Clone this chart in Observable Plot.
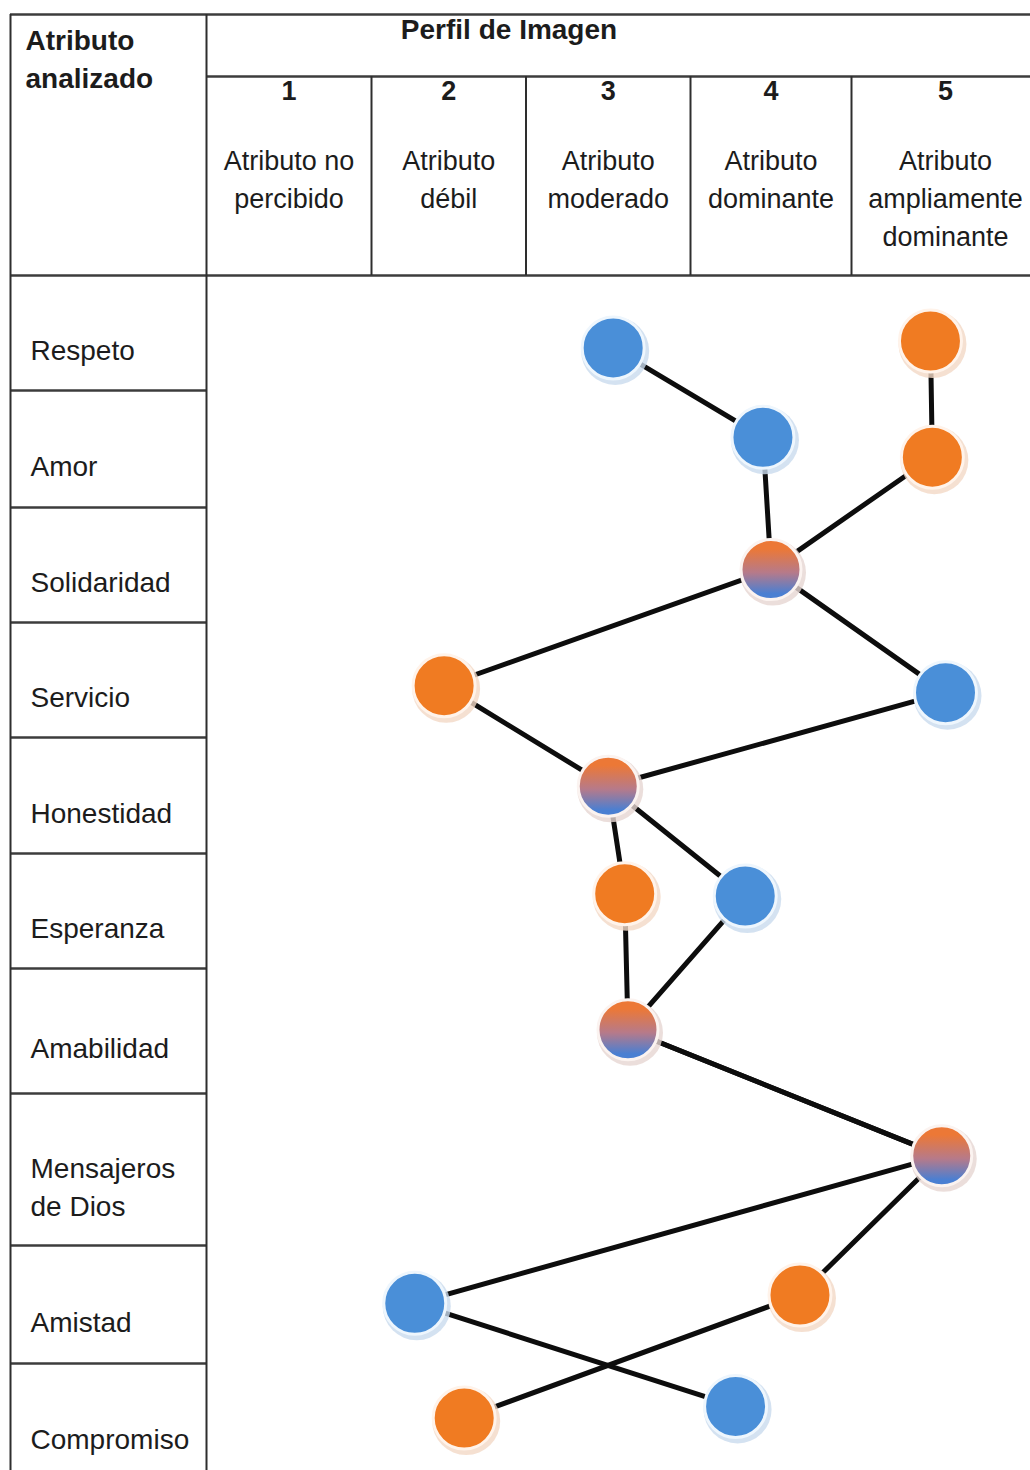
<!DOCTYPE html>
<html>
<head>
<meta charset="utf-8">
<script src="https://cdn.jsdelivr.net/npm/d3@7"></script>
<script src="https://cdn.jsdelivr.net/npm/@observablehq/plot@0.6"></script>
<style>
  html, body { margin: 0; padding: 0; background: #fff; }
  #chart svg { display: block; }
</style>
</head>
<body>
<div id="chart"></div>
<script>
// ---- data ----
const attributes = ["Respeto", "Amor", "Solidaridad", "Servicio", "Honestidad",
  "Esperanza", "Amabilidad", "Mensajeros\nde Dios", "Amistad", "Compromiso"];
const levels = [1, 2, 3, 4, 5];
const levelLabels = ["Atributo no\npercibido", "Atributo\ndébil", "Atributo\nmoderado",
  "Atributo\ndominante", "Atributo\nampliamente\ndominante"];
// score on the 1–5 image-profile scale
const blueScore   = [3.03, 3.95, 4.0, 5.0, 3.0, 3.84, 3.12, 4.98, 1.78, 3.78];
const orangeScore = [4.92, 4.93, 4.0, 1.97, 3.0, 3.10, 3.12, 4.98, 4.18, 2.10];
// vertical placement inside each attribute row (row index units)
const blueRow   = [0.63, 1.40, 2.54, 3.61, 4.42, 5.37, 6.49, 7.41, 8.49, 9.37];
const orangeRow = [0.57, 1.57, 2.54, 3.55, 4.42, 5.35, 6.49, 7.41, 8.42, 9.47];

const title = "Perfil de Imagen";
const corner = "Atributo\nanalizado";

// ---- derived tables ----
const blue = attributes.map((a, i) => ({attr: a, series: "blue", x: blueScore[i], y: blueRow[i]}));
const orange = attributes.map((a, i) => ({attr: a, series: "orange", x: orangeScore[i], y: orangeRow[i]}));
const same = attributes.map((a, i) => blueScore[i] === orangeScore[i] && blueRow[i] === orangeRow[i]);
const bluePts = blue.filter((d, i) => !same[i]);
const orangePts = orange.filter((d, i) => !same[i]);
const mixedPts = blue.filter((d, i) => same[i]);
const rowLabels = attributes.map((a, i) => ({label: a, y: i + 0.5}));
const n = attributes.length;

// table grid
const hLines = [
  {y: -2, x1: 0, x2: 5.5},
  {y: -1.5, x1: 0.5, x2: 5.5},
  {y: 0, x1: 0, x2: 5.5},
  ...d3.range(1, n).map(i => ({y: i, x1: 0, x2: 0.5}))
];
const vLines = [
  {x: 0, y1: -2, y2: n},
  {x: 0.5, y1: -2, y2: n},
  ...levels.slice(1).map(l => ({x: l - 0.5, y1: -1.5, y2: 0}))
];

const font = "'Liberation Sans', Arial, Helvetica, sans-serif";
const BLUE = "#4a8fd8", ORANGE = "#f07b22";

const svg = Plot.plot({
  width: 1030,
  height: 1470,
  margin: 0,
  style: {fontFamily: font, background: "#fff"},
  x: {type: "linear", axis: null,
      domain: [0, 0.5, 1.5, 2.5, 3.5, 4.5, 5.5],
      range: [10, 206, 371, 525.5, 690, 851, 1039]},
  y: {type: "linear", axis: null,
      domain: [-2, -1.5, ...d3.range(0, n + 1)],
      range: [14, 76, 275, 390, 507, 622, 737, 853, 968, 1093, 1245, 1363, 1479]},
  marks: [
    // grid
    Plot.ruleY(hLines, {y: "y", x1: "x1", x2: "x2", stroke: "#3c3c3c", strokeWidth: 2.6}),
    Plot.ruleX(vLines, {x: "x", y1: "y1", y2: "y2", stroke: "#2e2e2e", strokeWidth: 2}),
    // header
    Plot.text([corner], {x: 0, y: -2, text: d => d, textAnchor: "start", lineAnchor: "top",
      dx: 15, dy: 8, fontSize: 28, fontWeight: "bold", lineHeight: 1.36, fill: "#1c1c1c"}),
    Plot.text([title], {x: 2.39, y: -2, text: d => d, lineAnchor: "top",
      dy: 5, fontSize: 28, fontWeight: "bold", fill: "#1c1c1c"}),
    Plot.text(levels, {x: d => d, y: -1.5, text: d => String(d), lineAnchor: "top",
      dy: 4, fontSize: 27, fontWeight: "bold", fill: "#1c1c1c"}),
    Plot.text(levels, {x: d => d, y: -1.5, text: (d, i) => levelLabels[i], lineAnchor: "top",
      dy: 66, fontSize: 27, lineHeight: 1.42, fill: "#1c1c1c"}),
    // row labels
    Plot.text(rowLabels, {x: 0, y: "y", text: "label", textAnchor: "start", dx: 20, dy: 15,
      fontSize: 28, lineHeight: 1.36, fill: "#1c1c1c"}),
    // connecting lines
    Plot.line(blue, {x: "x", y: "y", stroke: "#0d0d0d", strokeWidth: 5, curve: "linear"}),
    Plot.line(orange, {x: "x", y: "y", stroke: "#0d0d0d", strokeWidth: 5, curve: "linear"}),
    // soft shadows
    Plot.dot(bluePts, {x: "x", y: "y", r: 34, dx: 2, dy: 3, fill: "#c9dbee", fillOpacity: 0.8}),
    Plot.dot(orangePts, {x: "x", y: "y", r: 34, dx: 2, dy: 3, fill: "#f3d8c6", fillOpacity: 0.8}),
    Plot.dot(mixedPts, {x: "x", y: "y", r: 33, dx: 2, dy: 3, fill: "#e6d6d2", fillOpacity: 0.8}),
    // circles
    Plot.dot(bluePts, {x: "x", y: "y", r: 31, fill: BLUE, stroke: "#eef6fd", strokeWidth: 3}),
    Plot.dot(orangePts, {x: "x", y: "y", r: 31, fill: ORANGE, stroke: "#fff3ea", strokeWidth: 3}),
    Plot.dot(mixedPts, {x: "x", y: "y", r: 30, fill: "url(#mixGrad)", stroke: "#fbf3f0", strokeWidth: 3})
  ]
});

const defs = document.createElementNS("http://www.w3.org/2000/svg", "defs");
defs.innerHTML = `<linearGradient id="mixGrad" x1="0" y1="0" x2="0" y2="1">
  <stop offset="0.15" stop-color="#ec7836"/>
  <stop offset="0.55" stop-color="#b67a8a"/>
  <stop offset="0.9" stop-color="#4a7fd2"/>
</linearGradient>`;
svg.insertBefore(defs, svg.firstChild);

document.getElementById("chart").append(svg);
</script>
</body>
</html>
